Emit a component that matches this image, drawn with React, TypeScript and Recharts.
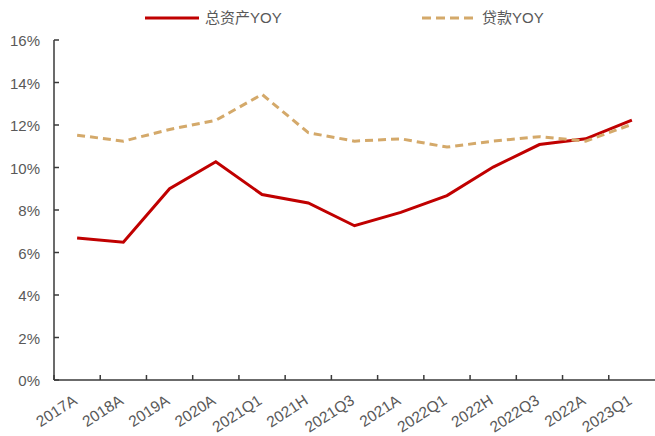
import React from 'react';
import { LineChart, Line, XAxis, YAxis, Legend } from 'recharts';

const categories = ['2017A', '2018A', '2019A', '2020A', '2021Q1', '2021H', '2021Q3', '2021A', '2022Q1', '2022H', '2022Q3', '2022A', '2023Q1'];
const totalAssetsYoY = [6.68, 6.48, 9.0, 10.27, 8.73, 8.33, 7.26, 7.89, 8.68, 10.02, 11.08, 11.35, 12.23];
const loansYoY = [11.52, 11.24, 11.79, 12.22, 13.44, 11.64, 11.24, 11.35, 10.96, 11.24, 11.45, 11.24, 12.03];
const yTicks = [0, 2, 4, 6, 8, 10, 12, 14, 16];
const seriesNames = { assets: '总资产YOY', loans: '贷款YOY' };

const data = categories.map((c, i) => ({ category: c, assets: totalAssetsYoY[i], loans: loansYoY[i] }));

const AXIS = '#3a3a3a';
const LABEL = '#595959';
const RED = '#C00000';
const TAN = '#D4A96A';
const FONT = '"Liberation Sans", Arial, "Noto Sans CJK SC", sans-serif';
const HALF_BAND = 601 / 13 / 2;

const XTick = (props: any) => {
  const { x, y, payload } = props;
  const tx = x + 1;
  const ty = y + 23;
  return (
    <g>
      <line x1={x - HALF_BAND} x2={x - HALF_BAND} y1={y} y2={y - 5} stroke={AXIS} strokeWidth={1.5} />
      <text x={tx} y={ty} textAnchor="end" fill={LABEL} fontSize={15.5} fontFamily={FONT} transform={`rotate(-33, ${tx}, ${ty})`}>
        {payload.value}
      </text>
    </g>
  );
};

const YTick = (props: any) => {
  const { x, y, payload } = props;
  return (
    <g>
      <line x1={x} x2={x + 5} y1={y} y2={y} stroke={AXIS} strokeWidth={1.5} />
      <text x={x - 14} y={y + 6} textAnchor="end" fill={LABEL} fontSize={15} fontFamily={FONT}>
        {`${payload.value}%`}
      </text>
    </g>
  );
};

const legendLefts: Record<string, number> = { assets: 145, loans: 422 };
const legendDash: Record<string, string | undefined> = { assets: undefined, loans: '9 5' };

const renderLegend = (props: any) => {
  const payload = props.payload || [];
  return (
    <div style={{ position: 'relative', width: 655, height: 36 }}>
      {payload.map((p: any, i: number) => (
        <div key={i} style={{ position: 'absolute', left: legendLefts[p.dataKey], top: 9, display: 'flex', alignItems: 'center', height: 18 }}>
          <svg width={54} height={6} style={{ display: 'block' }}>
            <line x1={0} x2={54} y1={3} y2={3} stroke={p.color} strokeWidth={3} strokeDasharray={legendDash[p.dataKey]} />
          </svg>
          <span style={{ marginLeft: 6, fontSize: 15, color: LABEL, fontFamily: FONT, lineHeight: '18px' }}>{p.value}</span>
        </div>
      ))}
    </div>
  );
};

export default function App() {
  return (
    <div style={{ position: 'absolute', left: 0, top: 0, width: 655, height: 436, background: '#fff' }}>
      <LineChart width={655} height={436} data={data} margin={{ top: 40, right: 0, bottom: 0, left: 0 }}>
        <XAxis
          dataKey="category"
          height={56}
          padding={{ left: HALF_BAND, right: HALF_BAND }}
          tick={<XTick />}
          tickLine={false}
          tickSize={0}
          tickMargin={0}
          interval={0}
          axisLine={{ stroke: AXIS, strokeWidth: 1.5 }}
        />
        <YAxis
          width={54}
          domain={[0, 16]}
          ticks={yTicks}
          tick={<YTick />}
          tickLine={false}
          tickSize={0}
          tickMargin={0}
          interval={0}
          axisLine={{ stroke: AXIS, strokeWidth: 1.5 }}
        />
        <Legend verticalAlign="middle" content={renderLegend} wrapperStyle={{ top: 0, left: 0, width: 655, height: 36 }} />
        <Line dataKey="assets" name={seriesNames.assets} stroke={RED} strokeWidth={3} dot={false} isAnimationActive={false} />
        <Line dataKey="loans" name={seriesNames.loans} stroke={TAN} strokeWidth={3} strokeDasharray="8 5" dot={false} isAnimationActive={false} />
      </LineChart>
    </div>
  );
}
